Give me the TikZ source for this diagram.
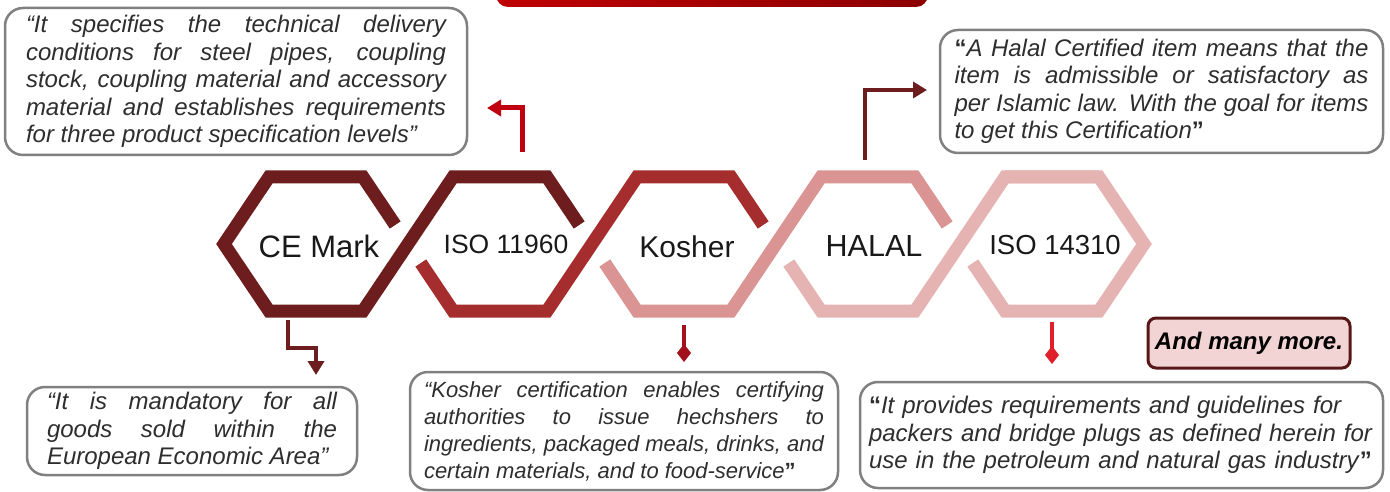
\documentclass[tikz,border=0pt]{standalone}
\usepackage{fontspec}
\setmainfont{Liberation Sans}
\usepackage{tikz}
\usetikzlibrary{arrows.meta}

\definecolor{cemaroon}{HTML}{6D1D1D}
\definecolor{isored}{HTML}{A52D2D}
\definecolor{koshpink}{HTML}{DA9494}
\definecolor{halpink}{HTML}{E6B3B3}
\definecolor{boxgray}{HTML}{808080}
\definecolor{quotegray}{HTML}{2E2E2E}
\definecolor{arrowred}{HTML}{C00010}
\definecolor{kosharrow}{HTML}{A3121C}
\definecolor{isoarrow}{HTML}{E0202A}
\definecolor{morefill}{HTML}{F3D4D4}

\newcommand{\upq}[1]{\textup{\textbf{#1}}}

\begin{document}
\begin{tikzpicture}[x=1pt,y=-1pt,
    band/.style={line width=13pt, line join=miter},
    hexlabel/.style={font=\fontsize{#1}{#1}\selectfont, inner sep=0pt, text=black!90},
    quotebox/.style={draw=boxgray, line width=2.5pt, rounded corners=18pt, fill=white,
      align=justify, inner xsep=0pt, text=quotegray,
      font=\fontsize{24}{27.5}\selectfont\itshape,
      execute at begin node={\tolerance=9999\relax}},
    morebox/.style={draw=cemaroon!80!black, fill=morefill, line width=3pt, rounded corners=8pt,
      minimum width=202pt, minimum height=50pt, inner sep=0pt,
      font=\fontsize{24}{24}\selectfont\bfseries\itshape},
    elbow/.style={line width=4.5pt, -{Triangle[length=14pt,width=16pt]}},
    diamondtip/.style={line width=4.5pt, -{Diamond[length=18pt,width=14pt]}}]
  \useasboundingbox (0,0) rectangle (1390,492);

  % red title bar, cut by the top edge
  \begin{scope}
    \clip (0,0) rectangle (1390,492);
    \shade[left color=red!75!black, right color=red!55!black, rounded corners=12pt]
      (496,-30) rectangle (928,7);
  \end{scope}

  % chain of hexagons
  \draw[band, cemaroon] (395.2,225) -- (363,177) -- (269,177) -- (224,244) -- (269,311)
    -- (363,311) -- (453,177) -- (547,177) -- (579.2,225);
  \draw[band, isored] (420.8,263) -- (453,311) -- (547,311) -- (637,177) -- (731,177) -- (763.2,225);
  \draw[band, koshpink] (604.8,263) -- (637,311) -- (731,311) -- (821,177) -- (915,177) -- (947.2,225);
  \draw[band, halpink] (788.8,263) -- (821,311) -- (915,311) -- (1005,177) -- (1099,177);
  \draw[band, halpink] (972.8,263) -- (1005,311) -- (1099,311) -- (1144,244) -- (1099,177) -- (1005,177);

  \node[hexlabel=31] (ce) at (319,246) {CE Mark};
  \node[hexlabel=26.5] (iso) at (506,244) {ISO 11960};
  \node[hexlabel=30] (kosher) at (687,247) {Kosher};
  \node[hexlabel=30.5] (halal) at (874,246) {HALAL};
  \node[hexlabel=27.5] (isob) at (1055,245) {ISO 14310};

  % quotes
  \node[quotebox, text width=420pt, minimum width=462pt, minimum height=147pt] (isotext) at (236,81.5)
    {“It specifies the technical delivery\linebreak
     conditions for steel pipes, coupling\linebreak
     stock, coupling material and accessory\linebreak
     material and establishes requirements\linebreak
     for three product specification levels”};
  \node[quotebox, text width=414pt, minimum width=443pt, minimum height=123pt] (halaltext) at (1161.5,91.5)
    {\upq{“}A Halal Certified item means that the\linebreak
     item is admissible or satisfactory as\linebreak
     per Islamic law. With the goal for items\linebreak
     to get this Certification\upq{”}};
  \node[quotebox, text width=290pt, minimum width=330pt, minimum height=88pt] (cetext) at (192,431)
    {“It is mandatory for all\linebreak
     goods sold within the\linebreak
     European Economic Area”};
  \node[quotebox, text width=400pt, minimum width=428pt, minimum height=118pt,
        font=\fontsize{22}{27}\selectfont\itshape] (koshtext) at (624,431)
    {“Kosher certification enables certifying\linebreak
     authorities to issue hechshers to\linebreak
     ingredients, packaged meals, drinks, and\linebreak
     certain materials, and to food-service\upq{”}};
  \node[quotebox, align=left, text width=505pt, minimum width=523pt, minimum height=106pt] (isobtext) at (1121.5,435)
    {\upq{“}It provides requirements and guidelines for\\
     packers and bridge plugs as defined herein for\\
     use in the petroleum and natural gas industry\upq{”}};

  \node[morebox] (more) at (1249,343) {And many more.};

  % connectors
  \coordinate (ceout) at (288,320);
  \coordinate (cein) at (316,375);
  \coordinate (isoout) at (522,152);
  \coordinate (isoin) at (487,108);
  \coordinate (koshout) at (684,325);
  \coordinate (koshin) at (684,362);
  \coordinate (halout) at (865,160);
  \coordinate (halin) at (927,90);
  \coordinate (isobout) at (1052,322);
  \coordinate (isobin) at (1052,364);

  \draw[elbow, cemaroon, line width=4pt] (ceout) -- ++(0,28) -| (cein);
  \draw[elbow, arrowred, line width=5pt] (isoout) |- (isoin);
  \draw[diamondtip, kosharrow] (koshout) -- (koshin);
  \draw[elbow, cemaroon] (halout) |- (halin);
  \draw[diamondtip, isoarrow] (isobout) -- (isobin);
\end{tikzpicture}
\end{document}
